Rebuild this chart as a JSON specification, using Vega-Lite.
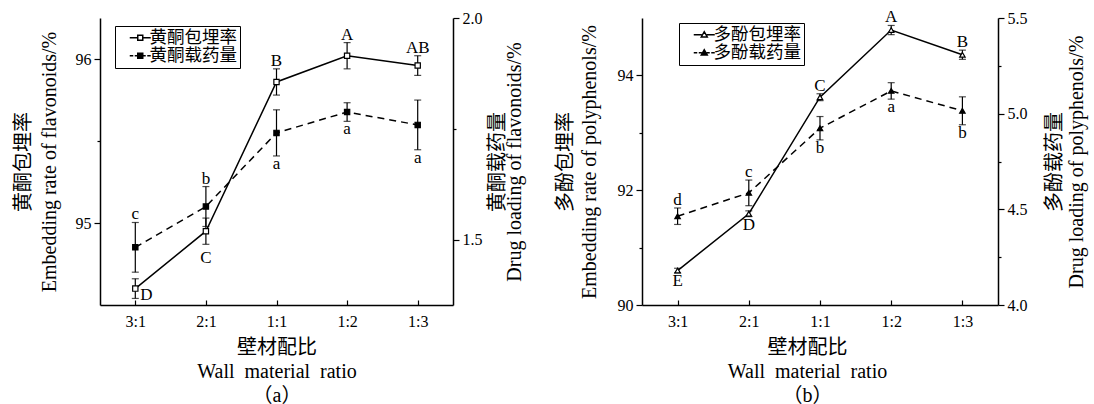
{
  "$schema": "https://vega.github.io/schema/vega-lite/v6.json",
  "background": "white",
  "padding": {"left": 12, "top": 8, "right": 3, "bottom": 0},
  "config": {
    "view": {"stroke": null},
    "font": "Liberation Serif, Noto Sans CJK SC",
    "axis": {
      "grid": false,
      "domainColor": "black",
      "domainWidth": 1.5,
      "tickColor": "black",
      "tickWidth": 1.2,
      "labelColor": "black",
      "titleColor": "black",
      "labelFont": "Liberation Serif, Noto Sans CJK SC",
      "labelFontSize": 16,
      "titleFont": "Liberation Serif, Noto Sans CJK SC",
      "titleFontSize": 20,
      "titleFontWeight": "normal"
    },
    "legend": {
      "labelFont": "Liberation Serif, Noto Sans CJK SC",
      "labelFontSize": 17.5,
      "labelColor": "black"
    }
  },
  "datasets": {
    "a": [
      {"series": "黄酮包埋率", "ratio": "3:1", "value": 94.60, "lo": 94.54, "hi": 94.66, "label": "D"},
      {"series": "黄酮包埋率", "ratio": "2:1", "value": 94.95, "lo": 94.87, "hi": 95.03, "label": "C"},
      {"series": "黄酮包埋率", "ratio": "1:1", "value": 95.86, "lo": 95.78, "hi": 95.94, "label": "B"},
      {"series": "黄酮包埋率", "ratio": "1:2", "value": 96.02, "lo": 95.94, "hi": 96.10, "label": "A"},
      {"series": "黄酮包埋率", "ratio": "1:3", "value": 95.96, "lo": 95.90, "hi": 96.02, "label": "AB"},
      {"series": "黄酮载药量", "ratio": "3:1", "value": 1.483, "lo": 1.427, "hi": 1.539, "label": "c"},
      {"series": "黄酮载药量", "ratio": "2:1", "value": 1.575, "lo": 1.530, "hi": 1.620, "label": "b"},
      {"series": "黄酮载药量", "ratio": "1:1", "value": 1.741, "lo": 1.689, "hi": 1.793, "label": "a"},
      {"series": "黄酮载药量", "ratio": "1:2", "value": 1.788, "lo": 1.767, "hi": 1.809, "label": "a"},
      {"series": "黄酮载药量", "ratio": "1:3", "value": 1.759, "lo": 1.703, "hi": 1.815, "label": "a"}
    ],
    "b": [
      {"series": "多酚包埋率", "ratio": "3:1", "value": 90.60, "lo": 90.56, "hi": 90.64, "label": "E"},
      {"series": "多酚包埋率", "ratio": "2:1", "value": 91.59, "lo": 91.54, "hi": 91.64, "label": "D"},
      {"series": "多酚包埋率", "ratio": "1:1", "value": 93.62, "lo": 93.56, "hi": 93.68, "label": "C"},
      {"series": "多酚包埋率", "ratio": "1:2", "value": 94.79, "lo": 94.71, "hi": 94.87, "label": "A"},
      {"series": "多酚包埋率", "ratio": "1:3", "value": 94.36, "lo": 94.28, "hi": 94.44, "label": "B"},
      {"series": "多酚载药量", "ratio": "3:1", "value": 4.464, "lo": 4.421, "hi": 4.507, "label": "d"},
      {"series": "多酚载药量", "ratio": "2:1", "value": 4.586, "lo": 4.519, "hi": 4.653, "label": "c"},
      {"series": "多酚载药量", "ratio": "1:1", "value": 4.924, "lo": 4.863, "hi": 4.985, "label": "b"},
      {"series": "多酚载药量", "ratio": "1:2", "value": 5.119, "lo": 5.076, "hi": 5.162, "label": "a"},
      {"series": "多酚载药量", "ratio": "1:3", "value": 5.015, "lo": 4.942, "hi": 5.088, "label": "b"}
    ]
  },
  "spacing": 30,
  "resolve": {
    "scale": {"x": "independent", "y": "independent", "shape": "independent", "fill": "independent"},
    "legend": {"shape": "independent", "fill": "independent"}
  },
  "hconcat": [
    {
      "width": 353,
      "height": 287,
      "data": {"name": "a"},
      "resolve": {"scale": {"y": "independent"}},
      "layer": [
        {
          "transform": [{"filter": "datum.series === '黄酮包埋率'"}],
          "layer": [
            {
              "mark": {"type": "line", "color": "black", "strokeWidth": 1.5},
              "encoding": {
                "x": {"field": "ratio", "type": "ordinal", "scale": {"type": "point", "domain": ["3:1", "2:1", "1:1", "1:2", "1:3"], "padding": 0.5},
                  "axis": {"title": ["壁材配比", "Wall\u00a0 material\u00a0 ratio", "（a）"], "labelAngle": 0, "tickSize": -5, "labelPadding": 13, "titlePadding": 8, "titleLineHeight": 24}},
                "y": {"field": "value", "type": "quantitative", "scale": {"domain": [94.5, 96.25], "nice": false, "zero": false},
                  "axis": {"orient": "left", "title": ["黄酮包埋率", "Embedding rate of flavonoids/%"], "values": [95, 95.5, 96], "format": ".0f",
                    "labelExpr": "datum.value % 1 ? '' : datum.label",
                    "tickSize": {"condition": {"test": "datum.value % 1 !== 0", "value": 3}, "value": 6},
                    "labelPadding": 3, "titlePadding": 16, "titleLineHeight": 26}}
              }
            },
            {
              "mark": {"type": "rule", "color": "black", "strokeWidth": 1.2},
              "encoding": {
                "x": {"field": "ratio", "type": "ordinal", "scale": {"type": "point", "domain": ["3:1", "2:1", "1:1", "1:2", "1:3"], "padding": 0.5}},
                "y": {"field": "lo", "type": "quantitative", "scale": {"domain": [94.5, 96.25], "nice": false, "zero": false}},
                "y2": {"field": "hi"}
              }
            },
            {
              "mark": {"type": "tick", "color": "black", "size": 7, "thickness": 1.2},
              "encoding": {
                "x": {"field": "ratio", "type": "ordinal", "scale": {"type": "point", "domain": ["3:1", "2:1", "1:1", "1:2", "1:3"], "padding": 0.5}},
                "y": {"field": "lo", "type": "quantitative", "scale": {"domain": [94.5, 96.25], "nice": false, "zero": false}}
              }
            },
            {
              "mark": {"type": "tick", "color": "black", "size": 7, "thickness": 1.2},
              "encoding": {
                "x": {"field": "ratio", "type": "ordinal", "scale": {"type": "point", "domain": ["3:1", "2:1", "1:1", "1:2", "1:3"], "padding": 0.5}},
                "y": {"field": "hi", "type": "quantitative", "scale": {"domain": [94.5, 96.25], "nice": false, "zero": false}}
              }
            },
            {
              "mark": {"type": "point", "shape": "square", "filled": true, "fill": "white", "stroke": "black", "strokeWidth": 1.2, "size": 28, "opacity": 1},
              "encoding": {
                "x": {"field": "ratio", "type": "ordinal", "scale": {"type": "point", "domain": ["3:1", "2:1", "1:1", "1:2", "1:3"], "padding": 0.5}},
                "y": {"field": "value", "type": "quantitative", "scale": {"domain": [94.5, 96.25], "nice": false, "zero": false}}
              }
            },
            {
              "transform": [{"filter": "indexof(['1:1','1:2','1:3'], datum.ratio) >= 0"}],
              "mark": {"type": "text", "baseline": "alphabetic", "dy": -3, "fontSize": 17, "color": "black", "font": "Liberation Serif"},
              "encoding": {
                "x": {"field": "ratio", "type": "ordinal", "scale": {"type": "point", "domain": ["3:1", "2:1", "1:1", "1:2", "1:3"], "padding": 0.5}},
                "y": {"field": "hi", "type": "quantitative", "scale": {"domain": [94.5, 96.25], "nice": false, "zero": false}},
                "text": {"field": "label"}
              }
            },
            {
              "transform": [{"filter": "datum.ratio === '2:1'"}],
              "mark": {"type": "text", "baseline": "top", "dy": 6, "fontSize": 17, "color": "black", "font": "Liberation Serif"},
              "encoding": {
                "x": {"field": "ratio", "type": "ordinal", "scale": {"type": "point", "domain": ["3:1", "2:1", "1:1", "1:2", "1:3"], "padding": 0.5}},
                "y": {"field": "lo", "type": "quantitative", "scale": {"domain": [94.5, 96.25], "nice": false, "zero": false}},
                "text": {"field": "label"}
              }
            },
            {
              "transform": [{"filter": "datum.ratio === '3:1'"}],
              "mark": {"type": "text", "baseline": "middle", "align": "left", "dx": 5, "dy": 6, "fontSize": 17, "color": "black", "font": "Liberation Serif"},
              "encoding": {
                "x": {"field": "ratio", "type": "ordinal", "scale": {"type": "point", "domain": ["3:1", "2:1", "1:1", "1:2", "1:3"], "padding": 0.5}},
                "y": {"field": "value", "type": "quantitative", "scale": {"domain": [94.5, 96.25], "nice": false, "zero": false}},
                "text": {"field": "label"}
              }
            }
          ]
        },
        {
          "transform": [{"filter": "datum.series === '黄酮载药量'"}],
          "layer": [
            {
              "mark": {"type": "line", "color": "black", "strokeWidth": 1.5, "strokeDash": [7, 5]},
              "encoding": {
                "x": {"field": "ratio", "type": "ordinal", "scale": {"type": "point", "domain": ["3:1", "2:1", "1:1", "1:2", "1:3"], "padding": 0.5}},
                "y": {"field": "value", "type": "quantitative", "scale": {"domain": [1.353, 2.0], "nice": false, "zero": false},
                  "axis": {"orient": "right", "title": ["黄酮载药量", "Drug loading of flavonoids/%"], "titleAngle": 270, "titleBaseline": "top", "values": [1.5, 1.75, 2.0], "format": ".1f",
                    "labelExpr": "datum.value === 1.75 ? '' : datum.label",
                    "tickSize": {"condition": {"test": "datum.value === 1.75", "value": 3}, "value": 6},
                    "labelPadding": 3, "titlePadding": -12, "titleLineHeight": 17}}
              }
            },
            {
              "mark": {"type": "rule", "color": "black", "strokeWidth": 1.2},
              "encoding": {
                "x": {"field": "ratio", "type": "ordinal", "scale": {"type": "point", "domain": ["3:1", "2:1", "1:1", "1:2", "1:3"], "padding": 0.5}},
                "y": {"field": "lo", "type": "quantitative", "scale": {"domain": [1.353, 2.0], "nice": false, "zero": false}},
                "y2": {"field": "hi"}
              }
            },
            {
              "mark": {"type": "tick", "color": "black", "size": 7, "thickness": 1.2},
              "encoding": {
                "x": {"field": "ratio", "type": "ordinal", "scale": {"type": "point", "domain": ["3:1", "2:1", "1:1", "1:2", "1:3"], "padding": 0.5}},
                "y": {"field": "lo", "type": "quantitative", "scale": {"domain": [1.353, 2.0], "nice": false, "zero": false}}
              }
            },
            {
              "mark": {"type": "tick", "color": "black", "size": 7, "thickness": 1.2},
              "encoding": {
                "x": {"field": "ratio", "type": "ordinal", "scale": {"type": "point", "domain": ["3:1", "2:1", "1:1", "1:2", "1:3"], "padding": 0.5}},
                "y": {"field": "hi", "type": "quantitative", "scale": {"domain": [1.353, 2.0], "nice": false, "zero": false}}
              }
            },
            {
              "mark": {"type": "point", "shape": "square", "filled": true, "fill": "black", "stroke": "black", "strokeWidth": 1.2, "size": 28, "opacity": 1},
              "encoding": {
                "x": {"field": "ratio", "type": "ordinal", "scale": {"type": "point", "domain": ["3:1", "2:1", "1:1", "1:2", "1:3"], "padding": 0.5}},
                "y": {"field": "value", "type": "quantitative", "scale": {"domain": [1.353, 2.0], "nice": false, "zero": false}}
              }
            },
            {
              "transform": [{"filter": "indexof(['3:1','2:1'], datum.ratio) >= 0"}],
              "mark": {"type": "text", "baseline": "alphabetic", "dy": -3, "fontSize": 17, "color": "black", "font": "Liberation Serif"},
              "encoding": {
                "x": {"field": "ratio", "type": "ordinal", "scale": {"type": "point", "domain": ["3:1", "2:1", "1:1", "1:2", "1:3"], "padding": 0.5}},
                "y": {"field": "hi", "type": "quantitative", "scale": {"domain": [1.353, 2.0], "nice": false, "zero": false}},
                "text": {"field": "label"}
              }
            },
            {
              "transform": [{"filter": "indexof(['1:1','1:2','1:3'], datum.ratio) >= 0"}],
              "mark": {"type": "text", "baseline": "top", "dy": 0, "fontSize": 17, "color": "black", "font": "Liberation Serif"},
              "encoding": {
                "x": {"field": "ratio", "type": "ordinal", "scale": {"type": "point", "domain": ["3:1", "2:1", "1:1", "1:2", "1:3"], "padding": 0.5}},
                "y": {"field": "lo", "type": "quantitative", "scale": {"domain": [1.353, 2.0], "nice": false, "zero": false}},
                "text": {"field": "label"}
              }
            }
          ]
        },
        {
          "transform": [{"filter": "false"}],
          "mark": {"type": "point", "filled": true, "stroke": "black"},
          "encoding": {
            "shape": {"field": "series", "type": "nominal",
              "scale": {"domain": ["黄酮包埋率", "黄酮载药量"], "range": ["M0.6,0H2.2M3.2,0H4.8M2.2,-0.5H3.2V0.5H2.2Z", "M0.6,0H1.3M1.6,0H2.2M3.2,0H3.8M4.1,0H4.8M2.2,-0.5H3.2V0.5H2.2Z"]},
              "legend": {"title": null, "orient": "none", "legendX": 15, "legendY": 8, "strokeColor": "black", "padding": 3, "symbolSize": 100, "labelOffset": 14, "rowPadding": -3, "symbolOpacity": 1,
                "encode": {"symbols": {"stroke": {"value": "black"}, "strokeWidth": {"value": 1.2}}}}},
            "fill": {"field": "series", "type": "nominal",
              "scale": {"domain": ["黄酮包埋率", "黄酮载药量"], "range": ["white", "black"]},
              "legend": {"title": null, "orient": "none", "legendX": 15, "legendY": 8, "strokeColor": "black", "padding": 3, "symbolSize": 100, "labelOffset": 14, "rowPadding": -3, "symbolOpacity": 1,
                "encode": {"symbols": {"stroke": {"value": "black"}, "strokeWidth": {"value": 1.2}}}}}
          }
        }
      ]
    },
    {
      "width": 356,
      "height": 287,
      "data": {"name": "b"},
      "resolve": {"scale": {"y": "independent"}},
      "layer": [
        {
          "transform": [{"filter": "datum.series === '多酚包埋率'"}],
          "layer": [
            {
              "mark": {"type": "line", "color": "black", "strokeWidth": 1.5},
              "encoding": {
                "x": {"field": "ratio", "type": "ordinal", "scale": {"type": "point", "domain": ["3:1", "2:1", "1:1", "1:2", "1:3"], "padding": 0.5},
                  "axis": {"title": ["壁材配比", "Wall\u00a0 material\u00a0 ratio", "（b）"], "labelAngle": 0, "tickSize": -5, "labelPadding": 13, "titlePadding": 8, "titleLineHeight": 24, "titleX": 165}},
                "y": {"field": "value", "type": "quantitative", "scale": {"domain": [90, 95], "nice": false, "zero": false},
                  "axis": {"orient": "left", "title": ["多酚包埋率", "Embedding rate of polyphenols/%"], "values": [90, 91, 92, 93, 94], "format": ".0f",
                    "labelExpr": "datum.value % 2 ? '' : datum.label",
                    "tickSize": {"condition": {"test": "datum.value % 2 !== 0", "value": 3}, "value": 6},
                    "labelPadding": 3, "titlePadding": 18, "titleLineHeight": 24}}
              }
            },
            {
              "mark": {"type": "rule", "color": "black", "strokeWidth": 1.2},
              "encoding": {
                "x": {"field": "ratio", "type": "ordinal", "scale": {"type": "point", "domain": ["3:1", "2:1", "1:1", "1:2", "1:3"], "padding": 0.5}},
                "y": {"field": "lo", "type": "quantitative", "scale": {"domain": [90, 95], "nice": false, "zero": false}},
                "y2": {"field": "hi"}
              }
            },
            {
              "mark": {"type": "tick", "color": "black", "size": 7, "thickness": 1.2},
              "encoding": {
                "x": {"field": "ratio", "type": "ordinal", "scale": {"type": "point", "domain": ["3:1", "2:1", "1:1", "1:2", "1:3"], "padding": 0.5}},
                "y": {"field": "lo", "type": "quantitative", "scale": {"domain": [90, 95], "nice": false, "zero": false}}
              }
            },
            {
              "mark": {"type": "tick", "color": "black", "size": 7, "thickness": 1.2},
              "encoding": {
                "x": {"field": "ratio", "type": "ordinal", "scale": {"type": "point", "domain": ["3:1", "2:1", "1:1", "1:2", "1:3"], "padding": 0.5}},
                "y": {"field": "hi", "type": "quantitative", "scale": {"domain": [90, 95], "nice": false, "zero": false}}
              }
            },
            {
              "mark": {"type": "point", "shape": "triangle-up", "filled": true, "fill": "white", "stroke": "black", "strokeWidth": 1.2, "size": 30, "opacity": 1},
              "encoding": {
                "x": {"field": "ratio", "type": "ordinal", "scale": {"type": "point", "domain": ["3:1", "2:1", "1:1", "1:2", "1:3"], "padding": 0.5}},
                "y": {"field": "value", "type": "quantitative", "scale": {"domain": [90, 95], "nice": false, "zero": false}}
              }
            },
            {
              "transform": [{"filter": "indexof(['1:1','1:2','1:3'], datum.ratio) >= 0"}],
              "mark": {"type": "text", "baseline": "alphabetic", "dy": -3, "fontSize": 17, "color": "black", "font": "Liberation Serif"},
              "encoding": {
                "x": {"field": "ratio", "type": "ordinal", "scale": {"type": "point", "domain": ["3:1", "2:1", "1:1", "1:2", "1:3"], "padding": 0.5}},
                "y": {"field": "hi", "type": "quantitative", "scale": {"domain": [90, 95], "nice": false, "zero": false}},
                "text": {"field": "label"}
              }
            },
            {
              "transform": [{"filter": "indexof(['3:1','2:1'], datum.ratio) >= 0"}],
              "mark": {"type": "text", "baseline": "top", "dy": 0, "fontSize": 17, "color": "black", "font": "Liberation Serif"},
              "encoding": {
                "x": {"field": "ratio", "type": "ordinal", "scale": {"type": "point", "domain": ["3:1", "2:1", "1:1", "1:2", "1:3"], "padding": 0.5}},
                "y": {"field": "lo", "type": "quantitative", "scale": {"domain": [90, 95], "nice": false, "zero": false}},
                "text": {"field": "label"}
              }
            }
          ]
        },
        {
          "transform": [{"filter": "datum.series === '多酚载药量'"}],
          "layer": [
            {
              "mark": {"type": "line", "color": "black", "strokeWidth": 1.5, "strokeDash": [7, 5]},
              "encoding": {
                "x": {"field": "ratio", "type": "ordinal", "scale": {"type": "point", "domain": ["3:1", "2:1", "1:1", "1:2", "1:3"], "padding": 0.5}},
                "y": {"field": "value", "type": "quantitative", "scale": {"domain": [4.0, 5.5], "nice": false, "zero": false},
                  "axis": {"orient": "right", "title": ["多酚载药量", "Drug loading of polyphenols/%"], "titleAngle": 270, "titleBaseline": "top", "values": [4.0, 4.25, 4.5, 4.75, 5.0, 5.25, 5.5], "format": ".1f",
                    "labelExpr": "(datum.value * 2) % 1 ? '' : datum.label",
                    "tickSize": {"condition": {"test": "(datum.value * 2) % 1 !== 0", "value": 3}, "value": 6},
                    "labelPadding": 3, "titlePadding": -5, "titleLineHeight": 22}}
              }
            },
            {
              "mark": {"type": "rule", "color": "black", "strokeWidth": 1.2},
              "encoding": {
                "x": {"field": "ratio", "type": "ordinal", "scale": {"type": "point", "domain": ["3:1", "2:1", "1:1", "1:2", "1:3"], "padding": 0.5}},
                "y": {"field": "lo", "type": "quantitative", "scale": {"domain": [4.0, 5.5], "nice": false, "zero": false}},
                "y2": {"field": "hi"}
              }
            },
            {
              "mark": {"type": "tick", "color": "black", "size": 7, "thickness": 1.2},
              "encoding": {
                "x": {"field": "ratio", "type": "ordinal", "scale": {"type": "point", "domain": ["3:1", "2:1", "1:1", "1:2", "1:3"], "padding": 0.5}},
                "y": {"field": "lo", "type": "quantitative", "scale": {"domain": [4.0, 5.5], "nice": false, "zero": false}}
              }
            },
            {
              "mark": {"type": "tick", "color": "black", "size": 7, "thickness": 1.2},
              "encoding": {
                "x": {"field": "ratio", "type": "ordinal", "scale": {"type": "point", "domain": ["3:1", "2:1", "1:1", "1:2", "1:3"], "padding": 0.5}},
                "y": {"field": "hi", "type": "quantitative", "scale": {"domain": [4.0, 5.5], "nice": false, "zero": false}}
              }
            },
            {
              "mark": {"type": "point", "shape": "triangle-up", "filled": true, "fill": "black", "stroke": "black", "strokeWidth": 1.2, "size": 30, "opacity": 1},
              "encoding": {
                "x": {"field": "ratio", "type": "ordinal", "scale": {"type": "point", "domain": ["3:1", "2:1", "1:1", "1:2", "1:3"], "padding": 0.5}},
                "y": {"field": "value", "type": "quantitative", "scale": {"domain": [4.0, 5.5], "nice": false, "zero": false}}
              }
            },
            {
              "transform": [{"filter": "indexof(['3:1','2:1'], datum.ratio) >= 0"}],
              "mark": {"type": "text", "baseline": "alphabetic", "dy": -3, "fontSize": 17, "color": "black", "font": "Liberation Serif"},
              "encoding": {
                "x": {"field": "ratio", "type": "ordinal", "scale": {"type": "point", "domain": ["3:1", "2:1", "1:1", "1:2", "1:3"], "padding": 0.5}},
                "y": {"field": "hi", "type": "quantitative", "scale": {"domain": [4.0, 5.5], "nice": false, "zero": false}},
                "text": {"field": "label"}
              }
            },
            {
              "transform": [{"filter": "indexof(['1:1','1:2','1:3'], datum.ratio) >= 0"}],
              "mark": {"type": "text", "baseline": "top", "dy": 0, "fontSize": 17, "color": "black", "font": "Liberation Serif"},
              "encoding": {
                "x": {"field": "ratio", "type": "ordinal", "scale": {"type": "point", "domain": ["3:1", "2:1", "1:1", "1:2", "1:3"], "padding": 0.5}},
                "y": {"field": "lo", "type": "quantitative", "scale": {"domain": [4.0, 5.5], "nice": false, "zero": false}},
                "text": {"field": "label"}
              }
            }
          ]
        },
        {
          "transform": [{"filter": "false"}],
          "mark": {"type": "point", "filled": true, "stroke": "black"},
          "encoding": {
            "shape": {"field": "series", "type": "nominal",
              "scale": {"domain": ["多酚包埋率", "多酚载药量"], "range": ["M0.6,0H2.2M3.2,0H4.8M2.1,0.45L2.7,-0.6L3.3,0.45Z", "M0.6,0H1.3M1.6,0H2.2M3.2,0H3.8M4.1,0H4.8M2.1,0.45L2.7,-0.6L3.3,0.45Z"]},
              "legend": {"title": null, "orient": "none", "legendX": 37, "legendY": 5, "strokeColor": "black", "padding": 3, "symbolSize": 100, "labelOffset": 14, "rowPadding": -3, "symbolOpacity": 1,
                "encode": {"symbols": {"stroke": {"value": "black"}, "strokeWidth": {"value": 1.2}}}}},
            "fill": {"field": "series", "type": "nominal",
              "scale": {"domain": ["多酚包埋率", "多酚载药量"], "range": ["white", "black"]},
              "legend": {"title": null, "orient": "none", "legendX": 37, "legendY": 5, "strokeColor": "black", "padding": 3, "symbolSize": 100, "labelOffset": 14, "rowPadding": -3, "symbolOpacity": 1,
                "encode": {"symbols": {"stroke": {"value": "black"}, "strokeWidth": {"value": 1.2}}}}}
          }
        }
      ]
    }
  ]
}
